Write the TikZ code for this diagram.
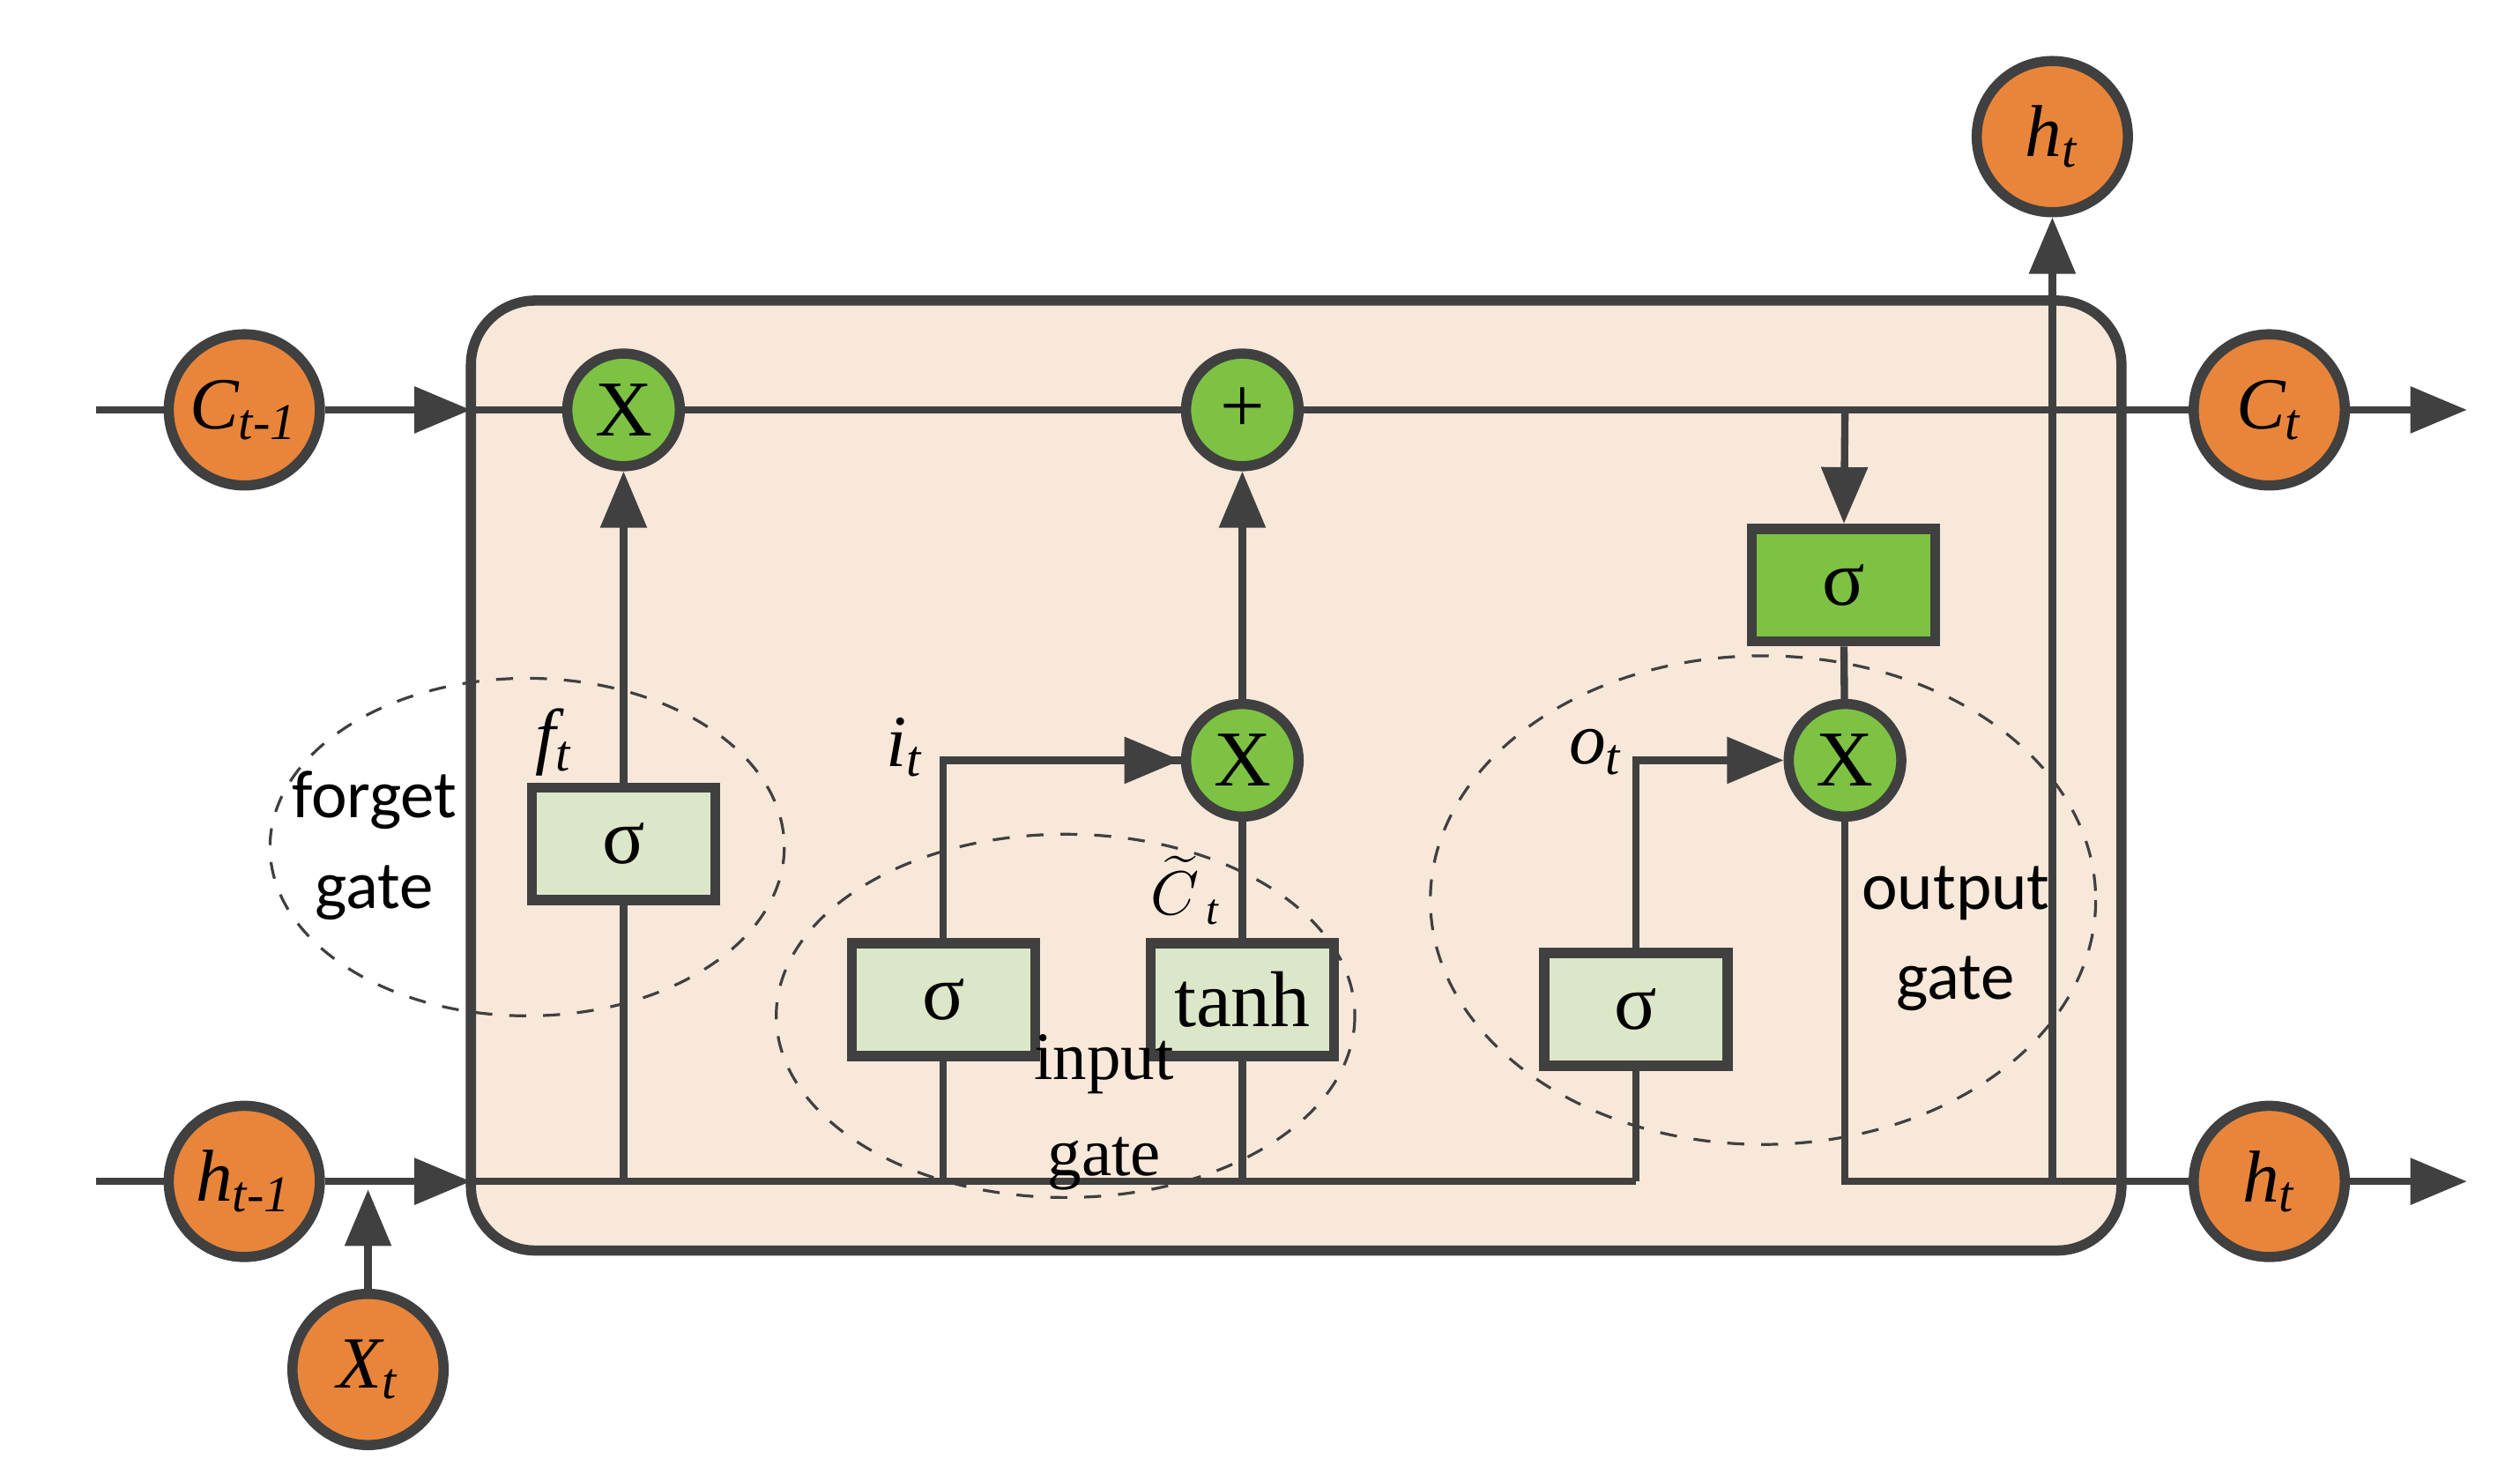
\documentclass[tikz,border=0pt]{standalone}
\usepackage{fontspec}
\setmainfont{Liberation Serif}
\newfontfamily\gatefont{Carlito}
\usetikzlibrary{arrows.meta,calc}
\definecolor{ln}{HTML}{404040}
\definecolor{org}{HTML}{E8853A}
\definecolor{grn}{HTML}{7DC242}
\definecolor{bx}{HTML}{DCE6C8}
\definecolor{peach}{HTML}{F8E8DA}
\begin{document}
\begin{tikzpicture}[x=0.01cm,y=-0.01cm,
  line width=1.3pt,
  arr/.style={draw=ln,-{Triangle[length=10pt,width=8pt]}},
  ln/.style={draw=ln},
  oc/.style={circle,draw=ln,line width=1.8pt,fill=org,minimum size=0.94cm,inner sep=0pt,font=\fontsize{13}{15}\selectfont\itshape},
  gc/.style={circle,draw=ln,line width=1.8pt,fill=grn,minimum size=0.70cm,inner sep=0pt,font=\fontsize{14}{16}\selectfont},
  bxs/.style={rectangle,draw=ln,line width=1.8pt,fill=bx,minimum width=1.14cm,minimum height=0.70cm,font=\fontsize{14}{16}\selectfont},
  ell/.style={draw=ln,dashed,line width=0.5pt},
  lbl/.style={font=\fontsize{13}{15}\selectfont\itshape},
  gl/.style={align=center,font=\gatefont\fontsize{12}{16}\selectfont}
]
\useasboundingbox (0,0) rectangle (1568,921);
\draw[ln,fill=peach,line width=1.8pt,rounded corners=0.4cm] (293,187) rectangle (1320,778);
% dashed ellipses
\draw[ell] (328,527) ellipse [x radius=160,y radius=105];
\draw[ell] (663,632) ellipse [x radius=180,y radius=113];
\draw[ell] (1097,560) ellipse [x radius=207,y radius=152];
% nodes
\coordinate (cin) at (60,255);
\coordinate (hin) at (60,735);
\node[oc] (cprev) at (152,255) {C\textsubscript{t-1}};
\node[oc] (hprev) at (152,735) {h\textsubscript{t-1}};
\node[oc] (xt) at (229,852) {X\textsubscript{t}};
\node[oc] (ct) at (1412,255) {C\textsubscript{t}};
\node[oc] (ht) at (1412,735) {h\textsubscript{t}};
\node[oc] (htop) at (1277,85) {h\textsubscript{t}};
\coordinate (cout) at (1535,255);
\coordinate (hout) at (1535,735);
\coordinate (cbox) at (293,255);
\coordinate (hbox) at (293,735);
\coordinate (xtin) at (229,740);
\node[gc] (fx) at (388,255) {X};
\node[gc] (plus) at (773,255) {+};
\node[gc] (ix) at (773,473) {X};
\node[gc] (ox) at (1148,473) {X};
\node[bxs] (fs) at (388,525) {σ};
\node[bxs] (is) at (587,622) {σ};
\node[bxs] (tanh) at (773,622) {tanh};
\node[bxs] (os) at (1018,628) {σ};
\node[bxs,fill=grn] (cs) at (1147,364) {σ};
% top line
\draw[ln] (cin) -- (cprev);
\draw[arr] (cprev) -- (cbox);
\draw[ln] (cbox) -- (fx) -- (plus) -- (ct);
\draw[arr] (ct) -- (cout);
% bottom line
\draw[ln] (hin) -- (hprev);
\draw[arr] (hprev) -- (hbox);
\draw[ln] (hbox) -- (1018,735);
\draw[arr] (xt) -- (xtin);
\draw[arr] (ht) -- (hout);
% forget
\draw[ln] (388,735) -- (fs);
\draw[arr] (fs) -- (fx);
% input
\draw[ln] (587,735) -- (is);
\draw[ln] (is) |- (738,473);
\draw[arr] (587,473) -- (ix);
\draw[ln] (773,735) -- (tanh) -- (ix);
\draw[arr] (ix) -- (plus);
% output
\draw[ln] (1018,735) -- (os);
\draw[ln] (os) |- (1060,473);
\draw[arr] (1018,473) -- (ox);
\draw[arr] (1148,255) -- (cs);
\draw[ln] (cs) -- (ox);
\draw[ln] (ox) |- (ht);
\draw[arr] (1277,735) -- (htop);
% labels
\node[lbl] (ft) at (345,462) {f\textsubscript{t}};
\node[lbl] (it) at (563,465) {i\textsubscript{t}};
\node[lbl] (ot) at (993,468) {o\textsubscript{t}};
\node[lbl,font=\fontsize{11}{13}\selectfont\itshape] (ctil) at (738,554) {$\widetilde{C}$\textsubscript{\,t}};
\node[gl] (fg) at (233,526) {forget\\gate};
\node[align=center,font=\fontsize{12}{17}\selectfont] (ig) at (687,692) {input\\gate};
\node[gl] (og) at (1217,584) {output\\gate};
\end{tikzpicture}
\end{document}
